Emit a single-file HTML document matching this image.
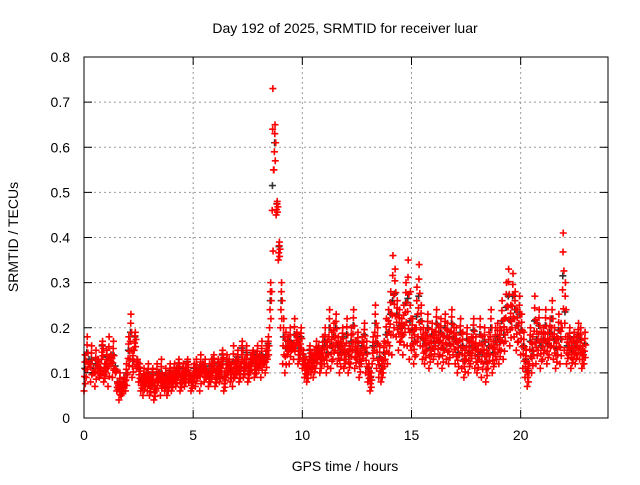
<!DOCTYPE html>
<html><head><meta charset="utf-8"><style>
body{margin:0;background:#fff;font-family:"Liberation Sans",sans-serif}
svg text{font-family:"Liberation Sans",sans-serif;font-size:14px;fill:#000}
</style></head><body>
<svg id="chart" width="640" height="480">
<rect width="640" height="480" fill="#fff"/>
<g id="grid"></g>
<g id="marks"></g>
<rect x="84" y="57" width="524" height="361" fill="none" stroke="#000" stroke-width="1"/>
<g id="ticks"></g>
<text x="345" y="33" text-anchor="middle">Day 192 of 2025, SRMTID for receiver luar</text>
<text x="345" y="471" text-anchor="middle">GPS time / hours</text>
<text transform="translate(18,237) rotate(-90)" text-anchor="middle">SRMTID / TECUs</text>
</svg>
<script>
const xTicks=[0,5,10,15,20];
const yTicks=[0,0.1,0.2,0.3,0.4,0.5,0.6,0.7,0.8];
const yTickLabels=["0","0.1","0.2","0.3","0.4","0.5","0.6","0.7","0.8"];
const timeStep=0.1;
const srmtidLow=[
.06,.09,.12,.08,.1,.07,.11,.09,.13,.08,
.1,.07,.12,.09,.11,.06,.04,.05,.07,.06,
.1,.13,.09,.15,.11,.08,.06,.05,.07,.06,
.05,.07,.04,.06,.08,.05,.07,.06,.05,.07,
.06,.08,.07,.09,.06,.08,.07,.1,.08,.06,
.08,.07,.09,.06,.1,.08,.09,.07,.08,.1,
.07,.09,.08,.11,.06,.09,.1,.08,.07,.09,
.1,.08,.12,.09,.11,.08,.1,.12,.09,.1,
.11,.09,.12,.1,.13,.2,.28,.55,.45,.35,
.2,.12,.1,.14,.12,.15,.13,.16,.12,.14,
.11,.09,.08,.12,.1,.09,.11,.13,.1,.12,
.12,.1,.14,.11,.13,.15,.12,.1,.14,.11,
.13,.1,.12,.15,.11,.13,.09,.12,.14,.1,
.08,.06,.12,.15,.11,.09,.08,.1,.13,.12,
.16,.14,.2,.18,.15,.17,.14,.19,.16,.13,
.15,.12,.14,.18,.16,.13,.12,.15,.11,.14,
.13,.16,.12,.14,.11,.15,.13,.12,.16,.14,
.12,.1,.14,.11,.09,.13,.1,.12,.15,.11,
.1,.13,.09,.12,.08,.11,.14,.1,.12,.13,
.12,.15,.13,.17,.19,.16,.2,.18,.15,.17,
.14,.11,.09,.07,.12,.1,.14,.12,.15,.11,
.13,.15,.12,.14,.16,.13,.11,.14,.12,.2,
.15,.12,.14,.11,.13,.12,.14,.13,.11,.12];
const srmtidHigh=[
.14,.18,.12,.16,.1,.15,.13,.11,.17,.12,
.15,.18,.14,.17,.1,.08,.1,.07,.09,.12,
.18,.23,.15,.19,.13,.12,.09,.11,.1,.12,
.09,.11,.08,.12,.1,.13,.09,.11,.1,.12,
.1,.12,.11,.13,.1,.12,.11,.13,.1,.09,
.12,.13,.11,.14,.12,.13,.1,.12,.13,.14,
.11,.13,.12,.15,.1,.14,.13,.12,.16,.13,
.15,.12,.17,.13,.16,.12,.14,.15,.13,.16,
.14,.17,.13,.16,.18,.3,.73,.65,.48,.39,
.3,.22,.19,.18,.2,.16,.22,.19,.17,.2,
.15,.13,.12,.16,.14,.15,.17,.16,.15,.18,
.2,.17,.24,.19,.21,.23,.18,.17,.2,.16,
.22,.16,.2,.24,.17,.19,.15,.18,.21,.17,
.12,.1,.18,.25,.2,.16,.13,.17,.22,.24,
.28,.36,.33,.26,.24,.22,.25,.3,.35,.28,
.22,.2,.29,.34,.25,.2,.19,.23,.18,.21,
.19,.24,.2,.22,.18,.23,.21,.19,.24,.2,
.2,.17,.22,.19,.15,.2,.17,.18,.22,.18,
.16,.22,.18,.2,.15,.19,.24,.17,.2,.21,
.2,.26,.22,.3,.33,.25,.32,.28,.24,.27,
.23,.19,.15,.12,.2,.18,.27,.21,.24,.19,
.2,.24,.19,.22,.26,.2,.18,.23,.21,.41,
.3,.18,.2,.17,.19,.18,.21,.2,.16,.19];
const NS="http://www.w3.org/2000/svg";
const L=84,R=608,T=57,B=418,XMAX=24,YMAX=0.8;
function xs(v){return L+v/XMAX*(R-L);}
function ys(v){return B-v/YMAX*(B-T);}
function mk(tag,attrs,parent){const e=document.createElementNS(NS,tag);for(const k in attrs)e.setAttribute(k,attrs[k]);parent.appendChild(e);return e;}
const grid=document.getElementById('grid'),ticks=document.getElementById('ticks'),marks=document.getElementById('marks');
xTicks.forEach(v=>{const x=xs(v);
 if(v>0){const g=mk('line',{x1:x,x2:x,y1:T,y2:B,stroke:'#999','stroke-dasharray':'2,3','stroke-width':1},grid);
 
 }
 const t1=mk('path',{d:`M${x},${B}v-8M${x},${T}v8`,stroke:'#000'},ticks);
 
 
 const lb=mk('text',{x:x,y:B+22,'text-anchor':'middle'},ticks);lb.textContent=v;
 
 
});
yTicks.forEach((v,i)=>{const y=ys(v);
 if(i>0&&i<yTicks.length-1){const g=mk('line',{x1:L,x2:R,y1:y,y2:y,stroke:'#999','stroke-dasharray':'2,3','stroke-width':1},grid);
 
 }
 const t1=mk('path',{d:`M${L},${y}h8M${R},${y}h-8`,stroke:'#000'},ticks);
 
 
 const lb=mk('text',{x:L-14,y:y+5,'text-anchor':'end'},ticks);lb.textContent=yTickLabels[i];
 
 
});
function plus(t,v,color){const x=xs(t),y=ys(v);
 const p=mk('path',{d:`M${x-3.5},${y}h7M${x},${y-3.5}v7`,stroke:color,'stroke-width':1.6},marks);
 
 }
const fracs=[0,0.2,0.4,0.6,0.8,1];
const offs=[0,0.06,0.02,0.08,0.04,0.05];
srmtidLow.forEach((v,i)=>plus(i*timeStep+0.03,(v+srmtidHigh[i])/2+0.01,'#333'));
srmtidLow.forEach((v,i)=>{const t=i*timeStep,h=srmtidHigh[i];
 fracs.forEach((f,k)=>plus(t+offs[k],v+(h-v)*f,'#f00'));
});
</script>
</body></html>
